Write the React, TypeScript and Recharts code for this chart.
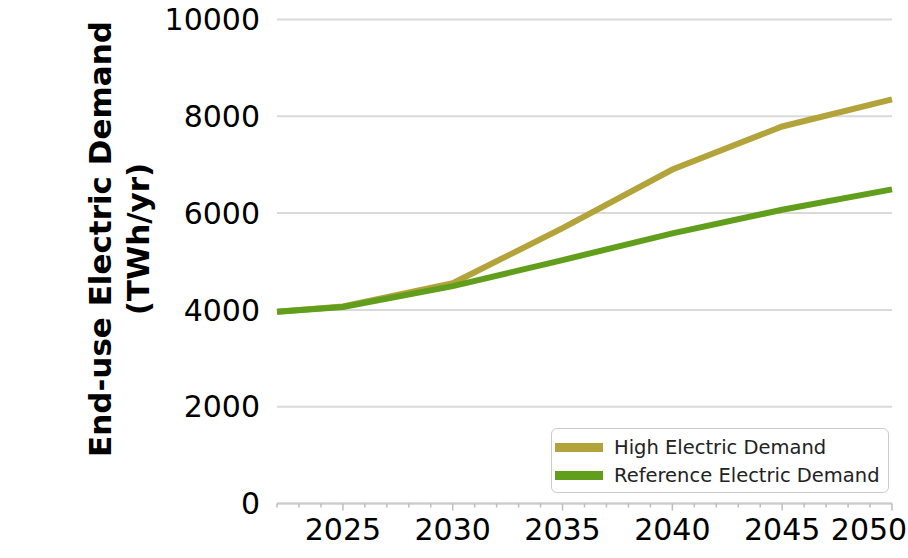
import { LineChart, Line, XAxis, YAxis, CartesianGrid, Legend } from "recharts";

const YEARS = [2022, 2025, 2030, 2035, 2040, 2045, 2050];
const HIGH_DEMAND = [3960, 4070, 4550, 5690, 6900, 7790, 8350];
const REF_DEMAND = [3960, 4060, 4490, 5030, 5580, 6070, 6490];

const Y_TICKS = [0, 2000, 4000, 6000, 8000, 10000];
const MAJOR_YEARS = [2025, 2030, 2035, 2040, 2045, 2050];
// one small tick per year along the x axis
const ALL_YEARS = Array.from({ length: 2050 - 2022 + 1 }, (_, i) => 2022 + i);

const HIGH_COLOR = "#b2a43a";
const REF_COLOR = "#609e1c";
const FONT = "DejaVu Sans, sans-serif";
const CHART_W = 908;

const rows = YEARS.map((year, i) => ({
  year,
  high: HIGH_DEMAND[i],
  ref: REF_DEMAND[i],
}));

const XTick = (props: any) => {
  const { x, y, payload } = props;
  const major = MAJOR_YEARS.includes(payload.value);
  // keep the last label inside the picture
  const labelX = Math.min(x, CHART_W - 39);
  return (
    <g>
      <line
        x1={x}
        x2={x}
        y1={y}
        y2={y + (major ? 7 : 4)}
        stroke="#bdbdbd"
        strokeWidth={1.5}
      />
      {major && (
        <text
          x={labelX}
          y={y + 36}
          textAnchor="middle"
          fontSize={30}
          fontFamily={FONT}
          fill="#000"
        >
          {payload.value}
        </text>
      )}
    </g>
  );
};

const YTitle = () => (
  <g fontFamily={FONT} fontWeight="bold" fontSize={31} fill="#000">
    <text x={111} y={239} textAnchor="middle" transform="rotate(-90 111 239)">
      End-use Electric Demand
    </text>
    <text x={149} y={239} textAnchor="middle" transform="rotate(-90 149 239)">
      (TWh/yr)
    </text>
  </g>
);

const LegendBox = (props: any) => {
  const { payload = [] } = props;
  return (
    <div
      style={{
        boxSizing: "border-box",
        width: 338,
        height: 65,
        border: "1.5px solid #cccccc",
        borderRadius: 6,
        background: "rgba(255,255,255,0.8)",
        padding: "4px 0 0 3px",
        fontFamily: FONT,
        fontSize: 19.5,
        color: "#222",
      }}
    >
      {payload.map((entry: any) => (
        <div
          key={entry.value}
          style={{ display: "flex", alignItems: "center", height: 28.5 }}
        >
          <span
            style={{
              display: "inline-block",
              width: 48,
              height: 9,
              background: entry.color,
              marginRight: 11,
            }}
          />
          <span>{entry.value}</span>
        </div>
      ))}
    </div>
  );
};

export default function App() {
  return (
    <div
      style={{
        position: "absolute",
        left: 0,
        top: 0,
        width: CHART_W,
        height: 558,
        overflow: "hidden",
        background: "#fff",
      }}
    >
      <LineChart
        width={CHART_W}
        height={558}
        data={rows}
        margin={{ top: 19.5, right: 16, bottom: 0, left: 17 }}
      >
        <CartesianGrid vertical={false} stroke="#dadada" strokeWidth={2} />
        <XAxis
          dataKey="year"
          type="number"
          domain={[2022, 2050]}
          ticks={ALL_YEARS}
          interval={0}
          height={54.5}
          tickSize={0}
          tickMargin={0}
          tick={<XTick />}
          axisLine={{ stroke: "#cccccc", strokeWidth: 2 }}
          tickLine={false}
        />
        <YAxis
          domain={[0, 10000]}
          ticks={Y_TICKS}
          width={260}
          tickSize={0}
          tickMargin={17}
          axisLine={false}
          tickLine={false}
          tick={{ fontSize: 30, fontFamily: FONT, fill: "#000" }}
          label={{ content: () => <YTitle /> }}
        />
        <Line
          type="linear"
          dataKey="high"
          name="High Electric Demand"
          stroke={HIGH_COLOR}
          strokeWidth={6}
          dot={false}
          isAnimationActive={false}
        />
        <Line
          type="linear"
          dataKey="ref"
          name="Reference Electric Demand"
          stroke={REF_COLOR}
          strokeWidth={6}
          dot={false}
          isAnimationActive={false}
        />
        <Legend
          layout="horizontal"
          verticalAlign="middle"
          align="center"
          content={<LegendBox />}
          wrapperStyle={{ left: 551, top: 428, width: 338, height: 65 }}
        />
      </LineChart>
    </div>
  );
}
